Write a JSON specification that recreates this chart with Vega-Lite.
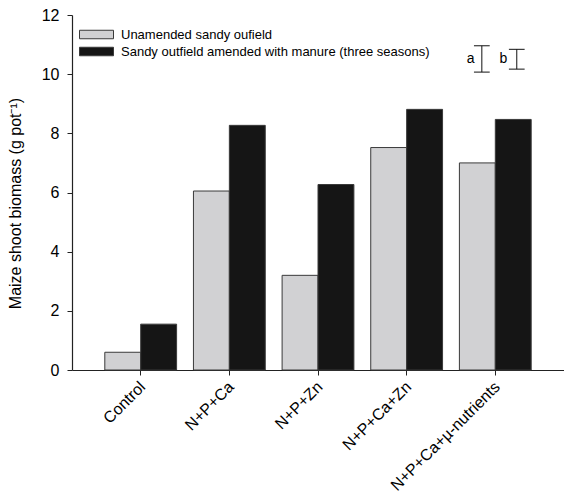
{
  "$schema": "https://vega.github.io/schema/vega-lite/v6.json",
  "autosize": {"type": "none"},
  "padding": {"left": 72, "top": 15, "right": 0, "bottom": 126},
  "width": 492,
  "height": 355,
  "config": {
    "view": {"stroke": null},
    "font": "Liberation Sans",
    "axis": {"labelFont": "Liberation Sans", "titleFont": "Liberation Sans", "labelColor": "#000", "titleColor": "#000", "domainColor": "#222", "tickColor": "#222", "grid": false, "titleFontWeight": "normal"},
    "legend": {"labelFont": "Liberation Sans"}
  },
  "datasets": {
    "bars": [
      {"treatment": "Control", "soil": "Unamended sandy oufield", "biomass": 0.6},
      {"treatment": "Control", "soil": "Sandy outfield amended with manure (three seasons)", "biomass": 1.55},
      {"treatment": "N+P+Ca", "soil": "Unamended sandy oufield", "biomass": 6.05},
      {"treatment": "N+P+Ca", "soil": "Sandy outfield amended with manure (three seasons)", "biomass": 8.27},
      {"treatment": "N+P+Zn", "soil": "Unamended sandy oufield", "biomass": 3.2},
      {"treatment": "N+P+Zn", "soil": "Sandy outfield amended with manure (three seasons)", "biomass": 6.27},
      {"treatment": "N+P+Ca+Zn", "soil": "Unamended sandy oufield", "biomass": 7.52},
      {"treatment": "N+P+Ca+Zn", "soil": "Sandy outfield amended with manure (three seasons)", "biomass": 8.81},
      {"treatment": "N+P+Ca+µ-nutrients", "soil": "Unamended sandy oufield", "biomass": 7.0},
      {"treatment": "N+P+Ca+µ-nutrients", "soil": "Sandy outfield amended with manure (three seasons)", "biomass": 8.47}
    ],
    "lsd": [
      {"label": "a", "pos": 83.3, "lo": 10.07, "hi": 10.96, "capL": 81.7, "capR": 84.9, "textX": 81.0, "textY": 10.5},
      {"label": "b", "pos": 90.4, "lo": 10.17, "hi": 10.84, "capL": 88.8, "capR": 92.0, "textX": 87.7, "textY": 10.5}
    ]
  },
  "layer": [
    {
      "data": {"name": "bars"},
      "mark": {"type": "bar", "stroke": "#3a3a3a", "strokeWidth": 1},
      "encoding": {
        "x": {
          "field": "treatment", "type": "nominal", "sort": null,
          "scale": {"paddingInner": 0.19, "paddingOuter": 0.37},
          "axis": {"title": null, "labelAngle": -45, "labelAlign": "right", "labelBaseline": "middle", "labelFontSize": 16, "tickSize": 5, "labelPadding": 9, "labelOffset": 2, "domainWidth": 1.2, "labelLimit": 300}
        },
        "xOffset": {"field": "soil", "type": "nominal", "sort": null, "scale": {"paddingInner": 0, "paddingOuter": 0}},
        "y": {
          "field": "biomass", "type": "quantitative",
          "scale": {"domain": [0, 12], "nice": false},
          "axis": {"title": "Maize shoot biomass (g pot⁻¹)", "values": [0, 2, 4, 6, 8, 10, 12], "labelFontSize": 16, "titleFontSize": 16, "tickSize": 5, "labelPadding": 8, "titlePadding": 18, "titleY": 188, "domainWidth": 1.2}
        },
        "color": {
          "field": "soil", "type": "nominal", "sort": null,
          "scale": {"range": ["#d1d1d3", "#151515"]},
          "legend": {
            "title": null, "orient": "none", "legendX": 15.5, "legendY": 10.5,
            "symbolType": "M-2,-0.5L2,-0.5L2,0.5L-2,0.5Z", "symbolSize": 289,
            "symbolStrokeColor": "#3a3a3a", "symbolStrokeWidth": 1,
            "labelFontSize": 13, "labelColor": "#000", "labelOffset": 15.5, "rowPadding": 1, "labelLimit": 400
          }
        }
      }
    },
    {
      "mark": {"type": "rule", "color": "#555", "strokeWidth": 1.2},
      "encoding": {"y": {"datum": 12}}
    },
    {
      "data": {"name": "lsd"},
      "layer": [
        {
          "mark": {"type": "rule", "color": "#111", "strokeWidth": 1},
          "encoding": {
            "x": {"field": "pos", "type": "quantitative", "scale": {"domain": [0, 100], "nice": false}, "axis": null},
            "y": {"field": "lo", "type": "quantitative"},
            "y2": {"field": "hi"}
          }
        },
        {
          "mark": {"type": "rule", "color": "#111", "strokeWidth": 1},
          "encoding": {
            "x": {"field": "capL", "type": "quantitative", "scale": {"domain": [0, 100], "nice": false}, "axis": null},
            "x2": {"field": "capR"},
            "y": {"field": "lo", "type": "quantitative"}
          }
        },
        {
          "mark": {"type": "rule", "color": "#111", "strokeWidth": 1},
          "encoding": {
            "x": {"field": "capL", "type": "quantitative", "scale": {"domain": [0, 100], "nice": false}, "axis": null},
            "x2": {"field": "capR"},
            "y": {"field": "hi", "type": "quantitative"}
          }
        },
        {
          "mark": {"type": "text", "fontSize": 14, "font": "Liberation Sans", "color": "#000", "align": "center", "baseline": "middle"},
          "encoding": {
            "x": {"field": "textX", "type": "quantitative", "scale": {"domain": [0, 100], "nice": false}, "axis": null},
            "y": {"field": "textY", "type": "quantitative"},
            "text": {"field": "label"}
          }
        }
      ]
    }
  ],
  "resolve": {"scale": {"x": "independent"}}
}
